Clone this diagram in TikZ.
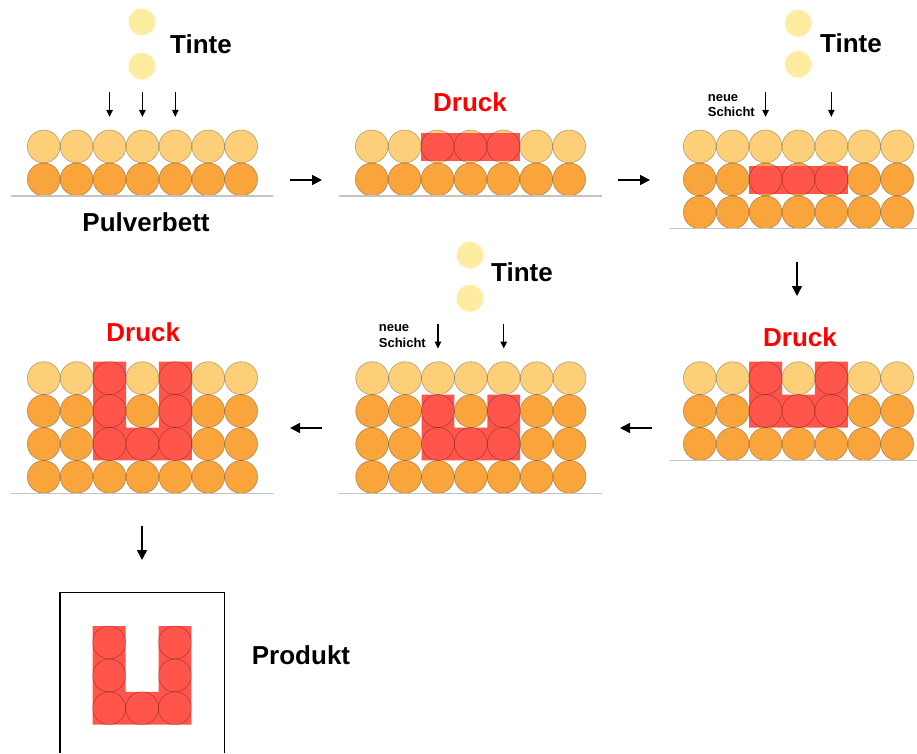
\documentclass[tikz,border=0pt]{standalone}
\usepackage{fontspec}
\setmainfont{Liberation Sans}
\usetikzlibrary{arrows.meta,calc}
\definecolor{hell}{RGB}{252,207,120}
\definecolor{dunkel}{RGB}{250,165,60}
\definecolor{rot}{RGB}{255,85,75}
\definecolor{tinte}{RGB}{254,236,160}
\definecolor{grau}{RGB}{195,195,195}
\tikzset{
	zelle/.style={x=32.9pt, y=-32.9pt},
	rand/.style={draw=black, draw opacity=0.3, line width=0.6pt},
	grund/.style={draw=grau, line width=1.4pt},
	tropfen/.style={circle, fill=tinte, minimum size=26.8pt, inner sep=0pt},
	titel/.style={font=\fontsize{26}{30}\selectfont\bfseries, inner sep=0pt},
	klein/.style={font=\fontsize{13}{15.5}\selectfont\bfseries, inner sep=0pt, align=left},
	pfeil/.style={line width=1.6pt, -{Triangle[length=10pt, width=10pt]}},
	pfeilchen/.style={line width=1.1pt, -{Triangle[length=7pt, width=6.5pt]}}
}
% row of powder: #1 = row, #2 = colour
\def\reihe(#1)#2{\foreach \i in {1,...,7} \fill[#2] (\i-0.5,#1-0.5) circle (0.5);}
\def\raender(#1){\foreach \j in {1,...,#1} \foreach \i in {1,...,7} \draw[rand] (\i-0.5,\j-0.5) circle (0.5);}

\begin{document}
\begin{tikzpicture}[x=1pt, y=-1pt]
		%%%%% START %%%%%
		\useasboundingbox (0,0) rectangle (917,753);
		
		%% Pulverbett
		\begin{scope}[shift={(27.3,130)}, zelle]
			\reihe(1){hell} \reihe(2){dunkel}
			\raender(2)
			\draw[grund] (-0.5,2) -- (7.47,2);
			\foreach \i in {3,4,5} \coordinate (k1\i) at (\i-0.5,-0.4);
		\end{scope}
		\node[tropfen] (tropfen1a) at (142,22) {};
		\node[tropfen] (tropfen1b) at (142,66) {};
		\node[titel] (tinte1) at (201,44) {Tinte};
		\node[titel] (bett) at (146,222) {Pulverbett};
		\foreach \i in {3,4,5} {
			\coordinate (s1\i) at ($(k1\i)+(0,-25)$);
			\draw[pfeilchen] (s1\i) -- (k1\i);
		}
		
		%% Druck 1
		\begin{scope}[shift={(355.3,130)}, zelle]
			\reihe(1){hell} \reihe(2){dunkel}
			\fill[rot] (2,0.08) rectangle (5,0.94);
			\raender(2)
			\draw[grund] (-0.5,2) -- (7.5,2);
		\end{scope}
		\node[titel, text=red] (druck1) at (470,102) {Druck};
		
		%% neue Schicht 1
		\begin{scope}[shift={(683.3,130)}, zelle]
			\reihe(1){hell} \reihe(2){dunkel} \reihe(3){dunkel}
			\fill[rot] (2,1.08) rectangle (5,1.95);
			\raender(3)
			\draw[grund] (-0.4,3) -- (7.2,3);
			\foreach \i in {3,5} \coordinate (k3\i) at (\i-0.5,-0.4);
		\end{scope}
		\node[tropfen] (tropfen3a) at (798.3,23.3) {};
		\node[tropfen] (tropfen3b) at (798.3,64.3) {};
		\node[titel] (tinte3) at (851,43) {Tinte};
		\node[klein, anchor=base east] (schicht3) at (755,116.7) {neue\\Schicht};
		\foreach \i in {3,5} {
			\coordinate (s3\i) at ($(k3\i)+(0,-25)$);
			\draw[pfeilchen] (s3\i) -- (k3\i);
		}
		
		%% Druck 2
		\begin{scope}[shift={(683.3,361.7)}, zelle]
			\reihe(1){hell} \reihe(2){dunkel} \reihe(3){dunkel}
			\fill[rot] (2,0) -- (3,0) -- (3,1) -- (4,1) -- (4,0) -- (5,0) -- (5,2) -- (2,2) -- cycle;
			\raender(3)
			\draw[grund] (-0.4,3) -- (7.2,3);
		\end{scope}
		\node[titel, text=red] (druck2) at (800,337) {Druck};
		
		%% neue Schicht 2
		\begin{scope}[shift={(355.7,361.7)}, zelle]
			\reihe(1){hell} \reihe(2){dunkel} \reihe(3){dunkel} \reihe(4){dunkel}
			\fill[rot] (2,1) -- (3,1) -- (3,2) -- (4,2) -- (4,1) -- (5,1) -- (5,3) -- (2,3) -- cycle;
			\raender(4)
			\draw[grund] (-0.5,4) -- (7.5,4);
			\foreach \i in {3,5} \coordinate (k5\i) at (\i-0.5,-0.4);
		\end{scope}
		\node[tropfen] (tropfen5a) at (470,255) {};
		\node[tropfen] (tropfen5b) at (470,298.3) {};
		\node[titel] (tinte5) at (522,272) {Tinte};
		\node[klein, anchor=base east] (schicht5) at (426,347.3) {neue\\Schicht};
		\foreach \i in {3,5} {
			\coordinate (s5\i) at ($(k5\i)+(0,-25)$);
			\draw[pfeilchen] (s5\i) -- (k5\i);
		}
		
		%% Druck 3
		\begin{scope}[shift={(27.3,361.7)}, zelle]
			\reihe(1){hell} \reihe(2){dunkel} \reihe(3){dunkel} \reihe(4){dunkel}
			\fill[rot] (2,0) -- (3,0) -- (3,2) -- (4,2) -- (4,0) -- (5,0) -- (5,3) -- (2,3) -- cycle;
			\raender(4)
			\draw[grund] (-0.5,4) -- (7.47,4);
		\end{scope}
		\node[titel, text=red] (druck3) at (143.3,331.7) {Druck};
		
		%% Produkt
		\draw[line width=1.2pt] (60,753) -- (60,592.3) -- (224.3,592.3) -- (224.3,753);
		\begin{scope}[shift={(92.7,626)}, zelle]
			\fill[rot] (0,0) -- (1,0) -- (1,2) -- (2,2) -- (2,0) -- (3,0) -- (3,3) -- (0,3) -- cycle;
			\foreach \j in {1,2,3} {
				\draw[rand] (0.5,\j-0.5) circle (0.5);
				\draw[rand] (2.5,\j-0.5) circle (0.5);
			}
			\draw[rand] (1.5,2.5) circle (0.5);
		\end{scope}
		\node[titel] (produkt) at (301,655) {Produkt};
		
		%% Pfeile
		\coordinate (p1) at (290,180); \coordinate (p2) at (322,180);
		\coordinate (p3) at (618,180); \coordinate (p4) at (650,180);
		\coordinate (p5) at (797,262); \coordinate (p6) at (797,296);
		\coordinate (p7) at (652,428); \coordinate (p8) at (620,428);
		\coordinate (p9) at (322,428); \coordinate (p10) at (290,428);
		\coordinate (p11) at (142,526); \coordinate (p12) at (142,560);
		\draw[pfeil] (p1) -- (p2);
		\draw[pfeil] (p3) -- (p4);
		\draw[pfeil] (p5) -- (p6);
		\draw[pfeil] (p7) -- (p8);
		\draw[pfeil] (p9) -- (p10);
		\draw[pfeil] (p11) -- (p12);
		
		%%%%% END %%%%%
	\end{tikzpicture}
\end{document}
